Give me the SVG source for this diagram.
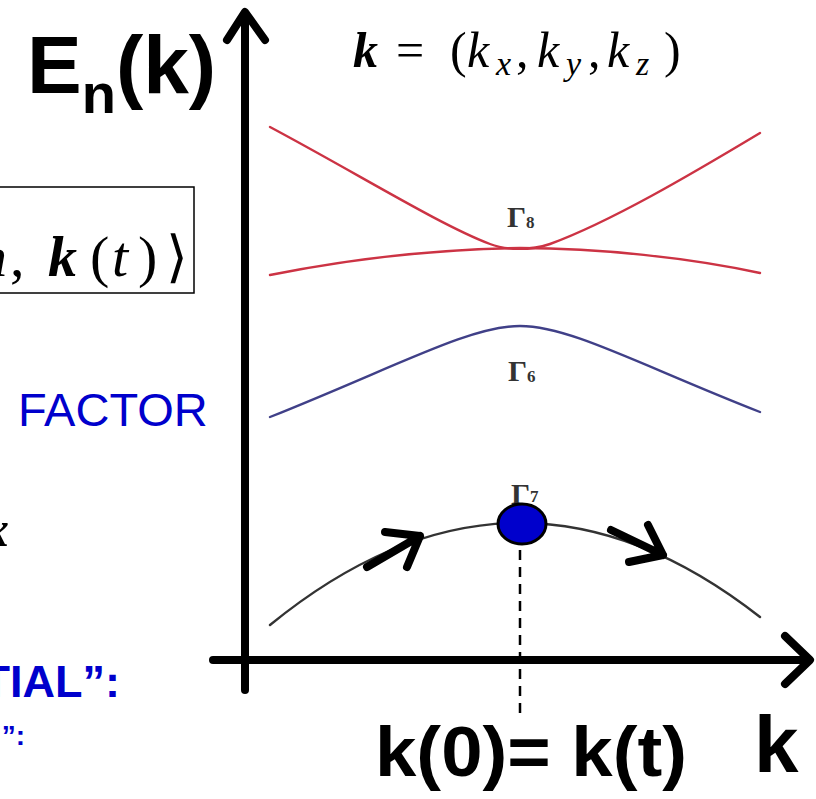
<svg xmlns="http://www.w3.org/2000/svg" width="816" height="799" viewBox="0 0 816 799">
<style>
.axis{fill:none;stroke:#000;stroke-width:8;stroke-linecap:round;stroke-linejoin:round}
.band{fill:none;stroke-width:2.4;stroke-linecap:round}
.red{stroke:#cc3344}
.blue{stroke:#404088}
.black{stroke:#333}
.gam{font-family:"Liberation Serif",serif;font-weight:bold;fill:#333}
.math{font-family:"Liberation Serif","DejaVu Serif",serif;fill:#000}
.bl{fill:#0000cc;font-family:"Liberation Sans",Arial,sans-serif}
.big{font-family:"Liberation Sans",Arial,sans-serif;font-weight:bold;fill:#000}
.mv{fill:none;stroke:#000;stroke-width:8;stroke-linecap:round;stroke-linejoin:round}
</style>
<rect width="816" height="799" fill="#fff"/>

<g id="left-text">
  <rect x="-20" y="187" width="214" height="106" fill="none" stroke="#000" stroke-width="1.5"/>
  <text class="math" y="276" font-size="58"><tspan x="-22" font-style="italic">n</tspan><tspan x="10">,</tspan><tspan x="48" font-style="italic" font-weight="bold">k</tspan><tspan x="90">(</tspan><tspan x="112" font-style="italic">t</tspan><tspan x="138">)</tspan><tspan x="166" font-family="DejaVu Serif" font-size="56">⟩</tspan></text>
  <text class="bl" x="18" y="426" font-size="47">FACTOR</text>
  <text class="math" x="-16" y="546" font-size="50" font-style="italic" font-weight="bold">x</text>
  <text class="bl" x="120" y="697" font-size="45" font-weight="bold" text-anchor="end">TIAL”:</text>
  <text class="bl" x="25" y="745" font-size="28" font-weight="bold" text-anchor="end">”:</text>
</g>

<g id="title">
  <text class="big" x="27" y="93" font-size="82">E<tspan font-size="56" dy="20">n</tspan><tspan dy="-20">(k)</tspan></text>
  <text class="math" y="67" font-size="50"><tspan x="353" font-style="italic" font-weight="bold">k</tspan><tspan x="396">=</tspan><tspan x="450">(</tspan><tspan x="467" font-style="italic">k</tspan><tspan x="496" font-style="italic" font-size="34" dy="8">x</tspan><tspan x="516" dy="-8">,</tspan><tspan x="537" font-style="italic">k</tspan><tspan x="566" font-style="italic" font-size="34" dy="8">y</tspan><tspan x="588" dy="-8">,</tspan><tspan x="607" font-style="italic">k</tspan><tspan x="636" font-style="italic" font-size="34" dy="8">z</tspan><tspan x="664" dy="-8">)</tspan></text>
</g>

<g id="bands">
  <path class="band red" d="M270,127 C360,175 440,225 490,244 C505,250 530,251 550,244 C610,222 690,175 760,133"/>
  <path class="band red" d="M270,275 C370,255 450,249 520,248 C600,248 690,258 760,273"/>
  <path class="band blue" d="M270,417 C400,365 470,326 520,326 C570,326 640,365 760,412"/>
  <path class="band black" d="M270,625 Q515,425 760,617"/>
</g>

<g id="labels">
  <text class="gam" x="507" y="227" font-size="30">Γ<tspan font-size="17" dy="1">8</tspan></text>
  <text class="gam" x="508" y="381" font-size="30">Γ<tspan font-size="17" dy="1">6</tspan></text>
  <text class="gam" x="511" y="504" font-size="30">Γ<tspan font-size="17" dy="-2">7</tspan></text>
</g>

<g id="axes">
  <line class="axis" x1="245" y1="14" x2="245" y2="690"/>
  <polyline class="axis" points="227,40 245,12 265,40"/>
  <line class="axis" x1="213" y1="660" x2="808" y2="660"/>
  <polyline class="axis" points="785,636 810,660 785,684"/>
  <line x1="520" y1="550" x2="520" y2="716" stroke="#000" stroke-width="2.5" stroke-dasharray="10,7"/>
</g>

<g id="motion">
  <path class="mv" d="M367,567 L420,536 M385,532 L420,536 L407,567"/>
  <path class="mv" d="M611,530 L663,555 M648,525 L663,555 L629,562"/>
  <ellipse id="electron" cx="522" cy="524" rx="24" ry="20" fill="#0000cc" stroke="#000" stroke-width="3"/>
</g>

<g id="axis-labels">
  <text class="big" x="375" y="776" font-size="70" textLength="312" lengthAdjust="spacingAndGlyphs">k(0)= k(t)</text>
  <text class="big" x="754" y="772" font-size="80">k</text>
</g>
</svg>
